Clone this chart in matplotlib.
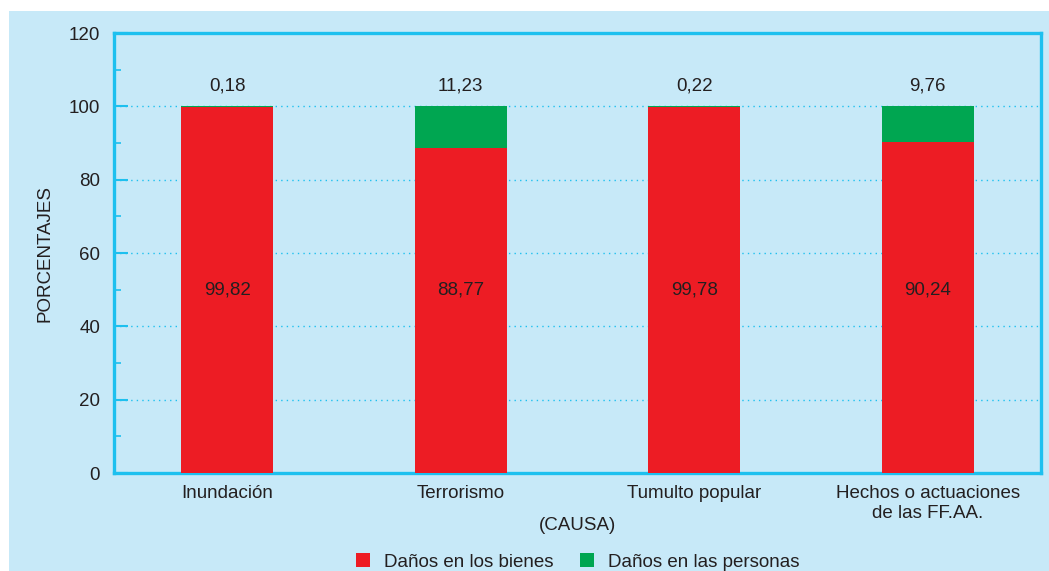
import matplotlib
matplotlib.use('Agg')
import matplotlib.pyplot as plt
import matplotlib.patches as patches
from matplotlib.ticker import MultipleLocator

# data
causas = ['Inundación', 'Terrorismo', 'Tumulto popular', 'Hechos o actuaciones\nde las FF.AA.']
bienes = [99.82, 88.77, 99.78, 90.24]
personas = [0.18, 11.23, 0.22, 9.76]
bienes_lbl = ['99,82', '88,77', '99,78', '90,24']
personas_lbl = ['0,18', '11,23', '0,22', '9,76']

RED = '#ed1c24'
GREEN = '#00a651'
CYAN = '#1dc0ef'
BG = '#c7e9f8'
TXT = '#231f20'
FS = 13.5

plt.rcParams['font.family'] = ['Liberation Sans', 'DejaVu Sans']
plt.rcParams['font.size'] = FS

fig = plt.figure(figsize=(10.49, 5.71), dpi=100, facecolor='white')
# light blue panel behind everything
fig.patches.append(patches.Rectangle((9 / 1049, 0), 1 - 9 / 1049, 1 - 11 / 571,
                                     transform=fig.transFigure, facecolor=BG,
                                     edgecolor='none', zorder=-10))

ax = fig.add_axes([114 / 1049, (571 - 473) / 571, 927 / 1049, 440 / 571])
ax.set_facecolor(BG)

x = range(len(causas))
w = 0.394
ax.bar(x, bienes, width=w, color=RED, zorder=3)
ax.bar(x, personas, width=w, bottom=bienes, color=GREEN, zorder=3)

for i in x:
    ax.text(i, 50, bienes_lbl[i], ha='center', va='center', color=TXT, zorder=4)
    ax.text(i, 105.5, personas_lbl[i], ha='center', va='center', color=TXT, zorder=4)

ax.set_xlim(-0.485, 3.485)
ax.set_ylim(0, 120)
ax.yaxis.set_major_locator(MultipleLocator(20))
ax.yaxis.set_minor_locator(MultipleLocator(10))
ax.tick_params(axis='y', which='major', direction='in', length=10, width=1.5,
               color=CYAN, pad=10, labelcolor=TXT, labelsize=FS)
ax.tick_params(axis='y', which='minor', direction='in', length=5, width=1.2, color=CYAN)
ax.set_xticks(list(x))
ax.set_xticklabels(causas, linespacing=1.22)
ax.tick_params(axis='x', length=0, pad=9, labelcolor=TXT, labelsize=FS)

for sp in ax.spines.values():
    sp.set_color(CYAN)
    sp.set_linewidth(2.4)

for yv in [20, 40, 60, 80, 100]:
    ax.axhline(yv, color=CYAN, linestyle=(0, (1, 3)), linewidth=1.0, zorder=1)

ax.set_ylabel('PORCENTAJES', color=TXT, fontsize=FS, labelpad=11)

fig.text(578 / 1049, 1 - 525 / 571, '(CAUSA)', ha='center', va='center', color=TXT, fontsize=FS)

handles = [patches.Patch(facecolor=RED, edgecolor='none'),
           patches.Patch(facecolor=GREEN, edgecolor='none')]
fig.legend(handles, ['Daños en los bienes', 'Daños en las personas'],
           loc='center', bbox_to_anchor=(578 / 1049, 1 - 562 / 571), ncol=2,
           frameon=False, handlelength=0.75, handleheight=0.75, columnspacing=1.4,
           handletextpad=0.75, fontsize=FS, labelcolor=TXT, borderpad=0)

fig.savefig('out.png', dpi=100, facecolor=fig.get_facecolor())
